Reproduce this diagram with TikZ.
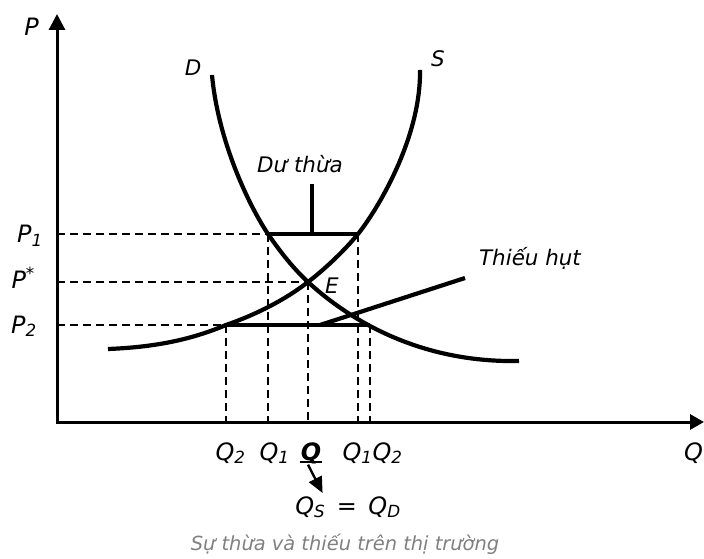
\documentclass[tikz,border=0pt]{standalone}
\usepackage{fontspec}
\setmainfont{DejaVu Sans}
\usetikzlibrary{arrows.meta,calc}
\begin{document}
\begin{tikzpicture}[x=1bp,y=-1bp,
  curve/.style={line width=4.2bp},
  axis/.style={line width=3bp},
  guide/.style={line width=1.5bp, dash pattern=on 8bp off 5bp},
  seg/.style={line width=3.8bp},
  lab/.style={inner sep=0pt, anchor=base, font=\fontsize{24}{28}\selectfont\itshape},
  small/.style={inner sep=0pt, anchor=base, font=\fontsize{21.5}{25}\selectfont\itshape},
  captext/.style={inner sep=0pt, anchor=base, font=\fontsize{19.5}{23}\selectfont\itshape, text=black!50},
  arr/.style={line width=2.4bp, -{Triangle[length=16bp,width=14bp]}}
]
\useasboundingbox (0,0) rectangle (704,559);

% key points
\coordinate (O) at (57,422);
\coordinate (Ytip) at (57,14);
\coordinate (Xtip) at (704,422);
\coordinate (A) at (268,234);   % D at P1
\coordinate (B) at (358,234);   % S at P1
\coordinate (E) at (308,282);   % equilibrium
\coordinate (C) at (226,325);   % S at P2
\coordinate (F) at (370,325);   % end of shortage bar
\coordinate (Sm) at (312,234);
\coordinate (St) at (312,184);
\coordinate (Sh1) at (320,325);
\coordinate (Sh2) at (465,278);

% guide lines
\draw[guide] (O|-A) -- (A);
\draw[guide] (O|-E) -- (E);
\draw[guide] (O|-C) -- (C);
\draw[guide] (C) -- (C|-O);
\draw[guide] (A) -- (A|-O);
\draw[guide] (E) -- (E|-O);
\draw[guide] (B) -- (B|-O);
\draw[guide] (F) -- (F|-O);

% axes
\draw[axis,{Triangle[length=16bp,width=16bp]}-{Triangle[length=14bp,width=15bp]}] (Ytip) -- (O) -- (Xtip);

% demand curve D
\draw[curve] (212,75) .. controls (218,140) and (248,204) .. (A)
  .. controls (281,253) and (294,269) .. (E)
  .. controls (345,316) and (415,363) .. (519,361);
% supply curve S
\draw[curve] (108,349) .. controls (160,347) and (195,338) .. (C)
  .. controls (255,315) and (285,300) .. (E)
  .. controls (325,269) and (345,250) .. (B)
  .. controls (375,213) and (421,140) .. (420,70);

% surplus and shortage bars
\draw[seg] (A) -- (B);
\draw[line width=3.3bp] (Sm) -- (St);
\draw[seg] (C) -- (F);
\draw[curve] (Sh1) -- (Sh2);

% labels
\node[lab] (Plab) at (31.5,36) {P};
\node[lab, anchor=base west] (Qlab) at (684,460) {Q};
\node[small] (Dlab) at (193,76) {D};
\node[small] (Slab) at (438,67) {S};
\node[small] (Elab) at (332,293) {E};
\node[small] (surplus) at (300,173) {Dư thừa};
\node[small] (shortage) at (530,266) {Thiếu hụt};
\node[lab, anchor=base east] (P1lab) at (43,243) {P\textsubscript{1}};
\node[lab, anchor=base east] (Pslab) at (35,288) {P\textsuperscript{*}};
\node[lab, anchor=base east] (P2lab) at (37,333) {P\textsubscript{2}};
\node[lab] (Q2l) at (230.5,460) {Q\textsubscript{2}};
\node[lab] (Q1l) at (274.5,460) {Q\textsubscript{1}};
\node[lab, font=\fontsize{24}{28}\selectfont\bfseries\itshape] (Qb) at (311,460) {Q};
\draw[line width=2bp] ($(Qb.base west)+(-1,1.5)$) -- ($(Qb.base east)+(1,1.5)$);
\node[lab] (Q12l) at (372.5,460) {Q\textsubscript{1}Q\textsubscript{2}};
\node[lab] (QSD) at (348,514) {Q\textsubscript{S}\, = \,Q\textsubscript{D}};
\draw[arr] ($(Qb.south)+(-3,1)$) -- ($(QSD.north west)!0.26!(QSD.north east)+(0,-3)$);
\node[captext] (cap) at (345,550) {Sự thừa và thiếu trên thị trường};
\end{tikzpicture}
\end{document}
